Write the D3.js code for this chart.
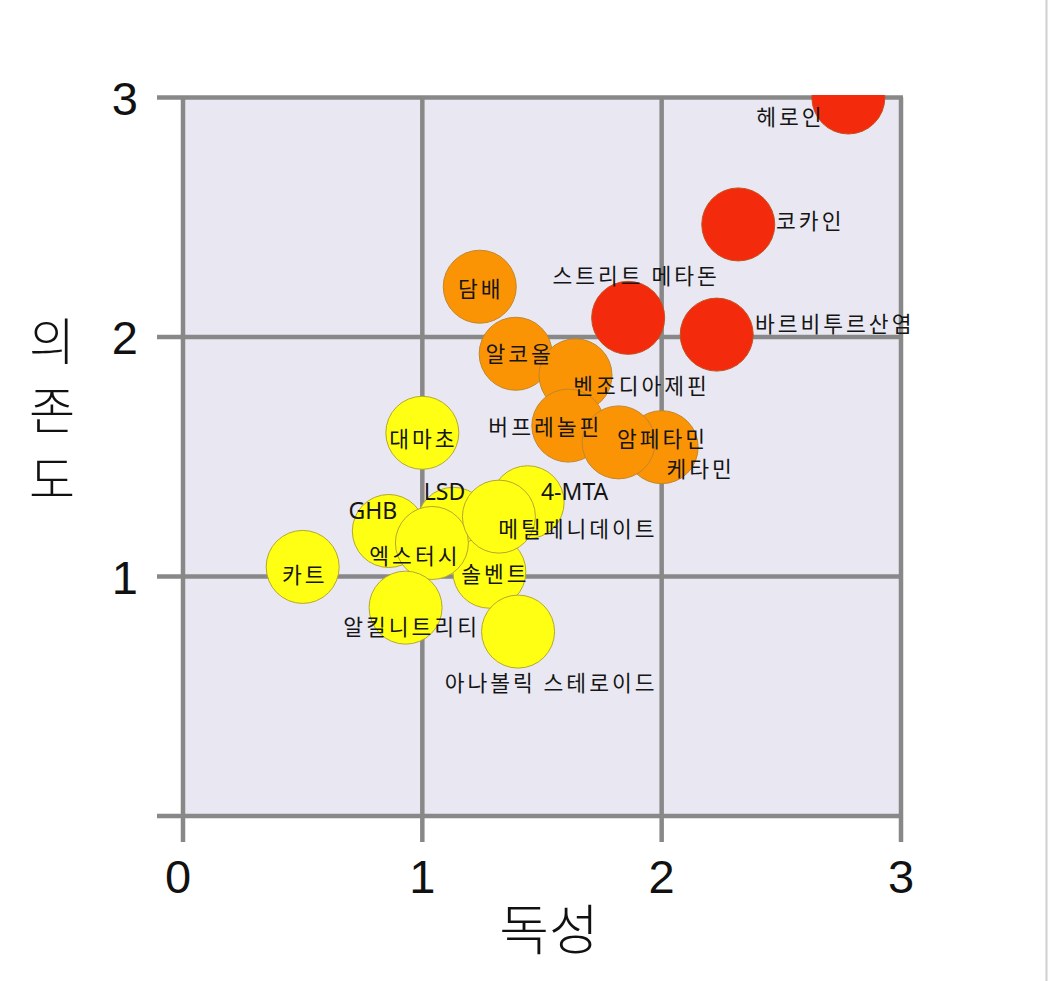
<!DOCTYPE html>
<html>
<head>
<meta charset="utf-8">
<script src="https://cdn.jsdelivr.net/npm/d3@7"></script>
<style>
  html, body { margin: 0; padding: 0; background: #fff; }
  svg { display: block; }
  .lbl { font-family: "Noto Sans CJK KR", "Noto Sans", sans-serif; font-size: 21.5px; fill: #151515; letter-spacing: 3px; }
  .lbl.latin { font-family: "Noto Sans", "Noto Sans CJK KR", sans-serif; font-size: 23px; letter-spacing: 0px; }
  .tick { font-family: "Liberation Sans", "DejaVu Sans", sans-serif; font-size: 47px; fill: #111; }
  .title { font-family: "Noto Sans CJK KR", sans-serif; font-weight: 300; fill: #111; }
</style>
</head>
<body>
<svg id="chart" width="1048" height="981"></svg>
<script>
// ---- data (draw order) ----
const drugs = ["4-MTA", "LSD", "GHB", "솔벤트", "엑스터시", "메틸페니데이트", "알킬니트리티", "아나볼릭 스테로이드", "카트", "대마초",
               "담배", "알코올", "벤조디아제핀", "버프레놀핀", "케타민", "암페타민",
               "헤로인", "코카인", "스트리트 메타돈", "바르비투르산염"];
const toxicity   = [1.44, 1.13, 0.86, 1.28, 1.04, 1.32, 0.93, 1.40, 0.50, 1.00,
                    1.24, 1.39, 1.64, 1.61, 2.00, 1.82,
                    2.78, 2.32, 1.86, 2.23];
const dependence = [1.31, 1.22, 1.19, 1.02, 1.14, 1.25, 0.87, 0.77, 1.04, 1.60,
                    2.21, 1.93, 1.84, 1.63, 1.54, 1.56,
                    3.00, 2.47, 2.08, 2.01];
const harmGroup  = ["low", "low", "low", "low", "low", "low", "low", "low", "low", "low",
                    "mid", "mid", "mid", "mid", "mid", "mid",
                    "high", "high", "high", "high"];
const xTicks = [0, 1, 2, 3];
const yTicks = [0, 1, 2, 3];
const xTitle = "독성";
const yTitle = "의존도";

// ---- layout / style ----
const labelOffsets = {
  "4-MTA": [47, -11], "LSD": [-9, -33], "GHB": [-16, -21], "솔벤트": [6, 1], "엑스터시": [-17, 12],
  "메틸페니데이트": [79, 11], "알킬니트리티": [6, 18], "아나볼릭 스테로이드": [33, 50], "카트": [2, 7], "대마초": [1, 5],
  "담배": [1, 1], "알코올": [4, -1], "벤조디아제핀": [66, 9], "버프레놀핀": [-23, 0], "케타민": [39, 20], "암페타민": [44, -5],
  "헤로인": [-58, 18], "코카인": [72, -5], "스트리트 메타돈": [8, -43], "바르비투르산염": [118, -12]
};
const fillColor   = { low: "#ffff14", mid: "#fb9405", high: "#f42a0c" };
const strokeColor = { low: "#b4a82a", mid: "#c0862c", high: "#c4501e" };
const R = 36.5;

const svg = d3.select("#chart");
const x = d3.scaleLinear().domain([0, 3]).range([183, 901]);
const y = d3.scaleLinear().domain([0, 3]).range([816, 97.5]);

// page edge line
svg.append("line").attr("x1", 1046.5).attr("x2", 1046.5).attr("y1", 0).attr("y2", 981)
  .attr("stroke", "#d0d0d0").attr("stroke-width", 2);

// plot background
svg.append("rect")
  .attr("x", x(0)).attr("y", y(3))
  .attr("width", x(3) - x(0)).attr("height", y(0) - y(3))
  .attr("fill", "#e9e8f2");

const gridColor = "#888888";
const gw = 4.5;
svg.append("g").selectAll("line").data(yTicks).join("line")
  .attr("x1", x(0) - 26).attr("x2", x(3) + 2)
  .attr("y1", d => y(d)).attr("y2", d => y(d))
  .attr("stroke", gridColor).attr("stroke-width", gw);
svg.append("g").selectAll("line").data(xTicks).join("line")
  .attr("x1", d => x(d)).attr("x2", d => x(d))
  .attr("y1", y(3)).attr("y2", y(0) + 26)
  .attr("stroke", gridColor).attr("stroke-width", gw);

// tick labels
svg.append("g").selectAll("text").data(yTicks.filter(d => d > 0)).join("text")
  .attr("class", "tick")
  .attr("text-anchor", "end")
  .attr("x", 138).attr("y", d => y(d) + 17)
  .text(d => d);
svg.append("g").selectAll("text").data(xTicks).join("text")
  .attr("class", "tick")
  .attr("text-anchor", "middle")
  .attr("x", d => x(d) - (d === 0 ? 5 : 0)).attr("y", 893)
  .text(d => d);

// axis titles
svg.append("text").attr("class", "title")
  .attr("x", 549).attr("y", 950)
  .attr("text-anchor", "middle")
  .style("font-size", "54px")
  .text(xTitle);
const yt = svg.append("text").attr("class", "title")
  .attr("text-anchor", "middle")
  .style("font-size", "50px");
yt.selectAll("tspan").data(Array.from(yTitle)).join("tspan")
  .attr("x", 52)
  .attr("y", (d, i) => 360 + i * 69)
  .text(d => d);

// clip
svg.append("clipPath").attr("id", "plotclip")
  .append("rect").attr("x", x(0) - 3).attr("y", y(3) - 2.5)
  .attr("width", x(3) - x(0) + 6).attr("height", y(0) - y(3) + 5);

const rows = drugs.map((name, i) => ({ name, tx: toxicity[i], dp: dependence[i], g: harmGroup[i] }));

svg.append("g").attr("clip-path", "url(#plotclip)")
  .selectAll("circle").data(rows).join("circle")
  .attr("cx", d => x(d.tx)).attr("cy", d => y(d.dp)).attr("r", R)
  .attr("fill", d => fillColor[d.g])
  .attr("stroke", d => strokeColor[d.g])
  .attr("stroke-width", 1);

svg.append("g").selectAll("text").data(rows).join("text")
  .attr("class", d => /^[\x00-\x7F]+$/.test(d.name) ? "lbl latin" : "lbl")
  .attr("text-anchor", "middle")
  .attr("dominant-baseline", "central")
  .attr("x", d => x(d.tx) + labelOffsets[d.name][0])
  .attr("y", d => y(d.dp) + labelOffsets[d.name][1])
  .text(d => d.name);
</script>
</body>
</html>
